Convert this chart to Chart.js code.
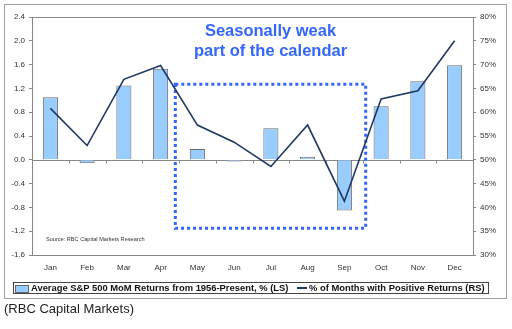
<!DOCTYPE html>
<html>
<head>
<meta charset="utf-8">
<script src="https://cdn.jsdelivr.net/npm/chart.js@4.4.1/dist/chart.umd.min.js"></script>
<style>
  body { margin: 0; background: #fff; font-family: Arial, "Liberation Sans", sans-serif; }
  #frame { position: absolute; left: 4px; top: 4px; width: 501px; height: 293px; border: 1px solid #a0a0a0; }
  #legend { position: absolute; left: 13px; top: 282px; width: 474px; height: 10px; border: 1px solid #444;
            font: bold 9.4px Arial, "Liberation Sans", sans-serif; color: #111; white-space: nowrap; }
  #legend span { position: absolute; }
  .sw { left: 1px; top: 2px; width: 12px; height: 6px; background: #99ccff; border: 1px solid #666; }
  .dash { left: 283px; top: 4px; width: 10px; height: 2px; background: #1f3864; }
  .t1 { left: 17px; top: -1px; }
  .t2 { left: 295px; top: -1px; }
  #caption { position: absolute; left: 4px; top: 301px; font: 13px Arial, "Liberation Sans", sans-serif; color: #222; }
</style>
</head>
<body>
<div id="frame"><canvas id="myChart" width="501" height="293"></canvas></div>
<div id="legend">
  <span class="sw"></span><span class="t1">Average S&amp;P 500 MoM Returns from 1956-Present, % (LS)</span>
  <span class="dash"></span><span class="t2">% of Months with Positive Returns (RS)</span>
</div>
<div id="caption">(RBC Capital Markets)</div>
<script>
const months = ['Jan', 'Feb', 'Mar', 'Apr', 'May', 'Jun', 'Jul', 'Aug', 'Sep', 'Oct', 'Nov', 'Dec'];
const avgReturns = [1.05, -0.06, 1.25, 1.53, 0.18, -0.03, 0.53, 0.05, -0.85, 0.90, 1.32, 1.59];
const pctPositive = [60.8, 53.0, 66.9, 69.8, 57.3, 53.7, 48.6, 57.3, 41.3, 62.8, 64.5, 75.0];
const titleLines = ['Seasonally weak', 'part of the calendar'];
const sourceText = 'Source: RBC Capital Markets Research';

const blue = '#3366ff';
const axisGray = '#888';

// plot border, zero line, dotted box, notes
const extras = {
    id: 'extras',
    beforeDatasetsDraw(chart) {
        const ctx = chart.ctx;
        const a = chart.chartArea;
        const x = chart.scales.x;
        const y = chart.scales.y;
        ctx.save();
        ctx.strokeStyle = axisGray;
        ctx.lineWidth = 1;
        ctx.strokeRect(a.left + 0.5, a.top + 0.5, a.right - a.left, a.bottom - a.top);
        // category axis crossing at zero
        const y0 = Math.round(y.getPixelForValue(0)) + 0.5;
        ctx.beginPath();
        ctx.moveTo(a.left, y0);
        ctx.lineTo(a.right, y0);
        for (let i = 1; i < months.length; i++) {
            const px = Math.round(x.getPixelForValue(i - 0.5)) + 0.5;
            ctx.moveTo(px, y0);
            ctx.lineTo(px, y0 + 3);
        }
        ctx.stroke();

        // dotted box around May-Sep
        const bx1 = x.getPixelForValue(3.4), bx2 = x.getPixelForValue(8.58);
        const by1 = y.getPixelForValue(1.27), by2 = y.getPixelForValue(-1.15);
        ctx.strokeStyle = blue;
        ctx.lineWidth = 3;
        ctx.setLineDash([3, 3]);
        ctx.strokeRect(bx1, by1, bx2 - bx1, by2 - by1);
        ctx.setLineDash([]);

        // title text
        ctx.fillStyle = blue;
        ctx.font = 'bold 16.5px Arial, "Liberation Sans", sans-serif';
        ctx.textAlign = 'center';
        ctx.textBaseline = 'middle';
        const cx = (bx1 + bx2) / 2;
        ctx.fillText(titleLines[0], cx, a.top + 14);
        ctx.fillText(titleLines[1], cx, a.top + 34);

        // source note
        ctx.fillStyle = '#333';
        ctx.font = '5.6px Arial, "Liberation Sans", sans-serif';
        ctx.textAlign = 'left';
        ctx.fillText(sourceText, a.left + 14, y.getPixelForValue(-1.34));
        ctx.restore();
    }
};

const tickFont = { family: 'Arial, "Liberation Sans", sans-serif', size: 8 };

new Chart(document.getElementById('myChart'), {
    data: {
        labels: months,
        datasets: [
            {
                type: 'bar',
                label: 'Average S&P 500 MoM Returns from 1956-Present, % (LS)',
                data: avgReturns,
                backgroundColor: '#99ccff',
                borderColor: '#6a6a6a',
                borderWidth: 1,
                categoryPercentage: 1,
                barPercentage: 0.41,
                yAxisID: 'y',
                order: 2
            },
            {
                type: 'line',
                label: '% of Months with Positive Returns (RS)',
                data: pctPositive,
                borderColor: '#1f3864',
                borderWidth: 1.6,
                pointRadius: 0,
                tension: 0,
                yAxisID: 'y1',
                order: 1
            }
        ]
    },
    options: {
        responsive: false,
        devicePixelRatio: 1,
        animation: false,
        layout: { padding: { top: 12, bottom: 23, left: 0, right: 0 } },
        plugins: { legend: { display: false }, tooltip: { enabled: false } },
        scales: {
            x: {
                grid: { display: false, drawTicks: false },
                border: { display: false },
                ticks: { font: tickFont, color: '#333', padding: 8, maxRotation: 0 },
                afterFit: s => { s.height = 20; }
            },
            y: {
                position: 'left',
                min: -1.6, max: 2.4,
                grid: { drawOnChartArea: false, tickLength: 3, color: axisGray },
                border: { color: axisGray },
                ticks: { stepSize: 0.4, font: tickFont, color: '#333', padding: 4,
                         callback: v => v.toFixed(1) },
                afterFit: s => { s.width = 27; }
            },
            y1: {
                position: 'right',
                min: 30, max: 80,
                grid: { drawOnChartArea: false, tickLength: 3, color: axisGray },
                border: { color: axisGray },
                ticks: { stepSize: 5, font: tickFont, color: '#333', padding: 4,
                         callback: v => v + '%' },
                afterFit: s => { s.width = 33; }
            }
        }
    },
    plugins: [extras]
});
</script>
</body>
</html>
